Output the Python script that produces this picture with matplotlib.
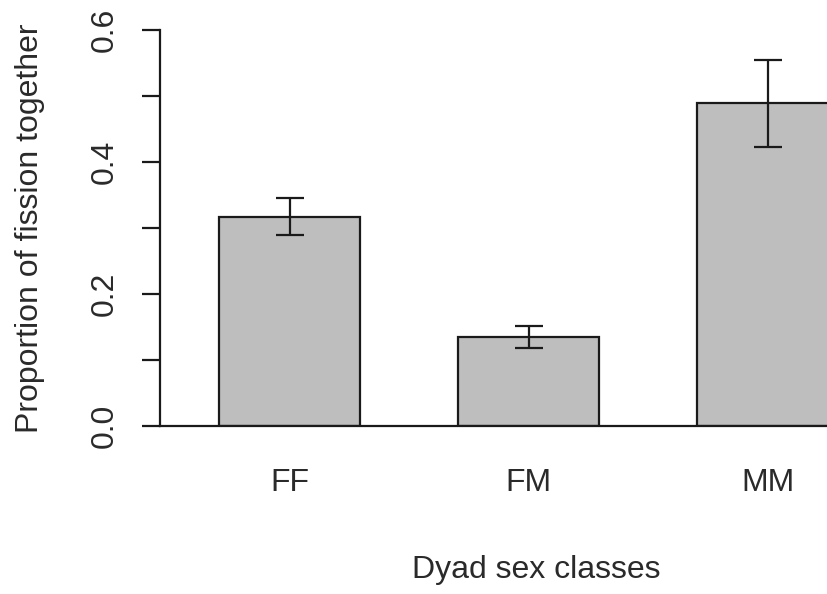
import matplotlib
matplotlib.use("Agg")
import matplotlib.pyplot as plt

# datos
clases = ["FF", "FM", "MM"]
proporcion = [0.317, 0.135, 0.489]
error = [0.028, 0.017, 0.066]
y_ticks = [0.0, 0.1, 0.2, 0.3, 0.4, 0.5, 0.6]
y_labels = ["0.0", "", "0.2", "", "0.4", "", "0.6"]

plt.rcParams['font.family'] = ['Liberation Sans', 'DejaVu Sans']

fig = plt.figure(figsize=(8.28, 5.94), dpi=100)
ax = fig.add_axes([160/828, 168/594, 668/828, 396/594])

x = range(len(clases))
ax.bar(x, proporcion, width=0.59, color="#bebebe", edgecolor="#1a1a1a",
       linewidth=1.6, zorder=2)
ax.errorbar(x, proporcion, yerr=error, fmt="none", ecolor="#1a1a1a",
            elinewidth=1.6, capsize=10.4, capthick=1.6, zorder=3)

ax.set_xlim(-0.542, 2.253)
ax.set_ylim(0, 0.6)

for s in ["top", "right"]:
    ax.spines[s].set_visible(False)
ax.spines["left"].set_linewidth(1.6)
ax.spines["bottom"].set_linewidth(1.6)
ax.spines["left"].set_color("#1a1a1a")
ax.spines["bottom"].set_color("#1a1a1a")

ax.set_yticks(y_ticks)
ax.set_yticklabels(y_labels, rotation=90, va="center")
ax.tick_params(axis="y", length=13, width=1.6, pad=16, labelsize=23,
               labelcolor="#2a2a2a", color="#1a1a1a")
ax.set_xticks(list(x))
ax.set_xticklabels(clases)
ax.tick_params(axis="x", length=0, pad=30, labelsize=23, labelcolor="#2a2a2a")

fig.text(536/828, 1 - 570/594, "Dyad sex classes", ha="center", va="center",
         fontsize=23, color="#2a2a2a")
fig.text(30/828, 1 - 228/594, "Proportion of fission together", ha="center",
         va="center", rotation=90, fontsize=23, color="#2a2a2a")

fig.savefig("out.png", dpi=100)
